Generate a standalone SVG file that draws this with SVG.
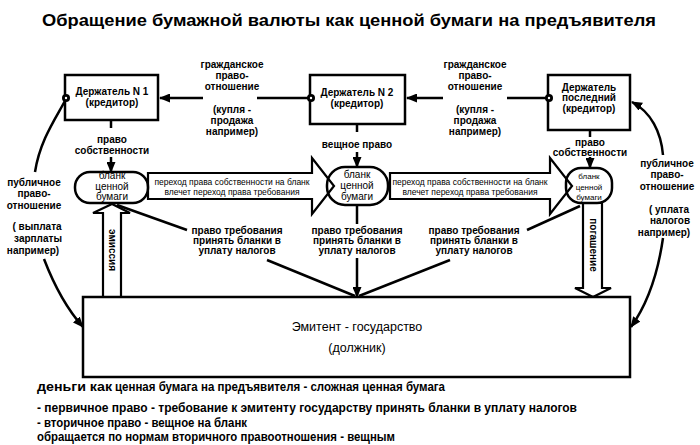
<svg xmlns="http://www.w3.org/2000/svg" width="700" height="445" viewBox="0 0 700 445">
<defs>
<marker id="ah" markerUnits="userSpaceOnUse" markerWidth="11" markerHeight="9" refX="10" refY="4.5" orient="auto">
<path d="M0,0 L11,4.5 L0,9 z" fill="#000"/>
</marker>
<style>
text{font-family:"Liberation Sans",Arial,sans-serif;fill:#000}
.b{font-weight:bold;font-size:10px;text-anchor:middle}
.s{font-size:8.5px;text-anchor:middle}
.p{font-size:10px;text-anchor:middle}
.p3{font-size:8px;text-anchor:middle}
.e{font-size:12.5px;text-anchor:middle}
.t{font-weight:bold;font-size:12.5px}
.box{fill:#fff;stroke:#000;stroke-width:2.5}
.pill{fill:none;stroke:#000;stroke-width:2.5}
.ln{fill:none;stroke:#000;stroke-width:2.5}
.big{fill:#fff;stroke:#000;stroke-width:2.2;stroke-linejoin:miter}
.dot{fill:#000}
.dotc{fill:#fff}
</style>
</defs>
<rect width="700" height="445" fill="#fff"/>
<text x="42" y="26" font-size="17" font-weight="bold" textLength="614" lengthAdjust="spacingAndGlyphs">Обращение бумажной валюты как ценной бумаги на предъявителя</text>

<g id="connectors">
<line class="ln" x1="310" y1="98" x2="257" y2="98"/>
<line class="ln" x1="203" y1="98" x2="160" y2="98" marker-end="url(#ah)"/>
<line class="ln" x1="548" y1="98" x2="507" y2="98"/>
<line class="ln" x1="443" y1="98" x2="407" y2="98" marker-end="url(#ah)"/>
<line class="ln" x1="111" y1="120" x2="111" y2="128"/>
<line class="ln" x1="111" y1="157" x2="111" y2="172" marker-end="url(#ah)"/>
<line class="ln" x1="357" y1="124" x2="357" y2="132"/>
<line class="ln" x1="357" y1="152" x2="357" y2="167" marker-end="url(#ah)"/>
<line class="ln" x1="590" y1="130" x2="590" y2="137"/>
<line class="ln" x1="590" y1="157" x2="590" y2="168" marker-end="url(#ah)"/>
<path class="ln" d="M66,99 C56,118 40,140 35,172"/>
<path class="ln" d="M44,259 C54,285 66,308 83,327" marker-end="url(#ah)"/>
<path class="ln" d="M663,155 C661,132 651,112 632,102" marker-end="url(#ah)"/>
<path class="ln" d="M663,238 C657,280 646,306 631,327" marker-end="url(#ah)"/>
<line class="ln" x1="117" y1="205" x2="187" y2="230"/>
<line class="ln" x1="267" y1="260" x2="355" y2="296"/>
<line class="ln" x1="357" y1="205" x2="357" y2="224"/>
<line class="ln" x1="357" y1="258" x2="357" y2="297" marker-end="url(#ah)"/>
<line class="ln" x1="450" y1="260" x2="359" y2="296"/>
<line class="ln" x1="580" y1="206" x2="527" y2="230"/>
<polygon class="big" points="148,173 312,173 312,158 334,186 312,214 312,199 148,199"/>
<polygon class="big" points="390,173 550,173 550,158 572,186 550,214 550,199 390,199"/>
<polygon class="big" points="103,297 103,213 93,213 112,204 130,213 121,213 121,297"/>
<polygon class="big" points="583,203 583,288 575,288 593,297 611,288 602,288 602,203"/>
<text class="s" x="232" y="185">переход права собственности на бланк</text>
<text class="s" x="232" y="195">влечет переход права требования</text>
<text class="s" x="470" y="185">переход права собственности на бланк</text>
<text class="s" x="470" y="195">влечет переход права требования</text>
<text class="b" font-size="9" transform="translate(112,250) rotate(90)" y="3">эмиссия</text>
<text class="b" transform="translate(593,245) rotate(90)" y="3.5">погашение</text>
<text class="b" x="232" y="68">гражданское</text>
<text class="b" x="232" y="79">право-</text>
<text class="b" x="232" y="90">отношение</text>
<text class="b" x="232" y="113">(купля -</text>
<text class="b" x="232" y="124">продажа</text>
<text class="b" x="232" y="135">например)</text>
<text class="b" x="475" y="68">гражданское</text>
<text class="b" x="475" y="79">право-</text>
<text class="b" x="475" y="90">отношение</text>
<text class="b" x="475" y="113">(купля -</text>
<text class="b" x="475" y="124">продажа</text>
<text class="b" x="475" y="135">например)</text>
<text class="b" x="112" y="143">право</text>
<text class="b" x="112" y="154">собственности</text>
<text class="b" x="357" y="148">вещное право</text>
<text class="b" x="590" y="146">право</text>
<text class="b" x="590" y="156">собственности</text>
<text class="b" x="237" y="234">право требования</text>
<text class="b" x="237" y="244">принять бланки в</text>
<text class="b" x="237" y="254">уплату налогов</text>
<text class="b" x="357" y="234">право требования</text>
<text class="b" x="357" y="244">принять бланки в</text>
<text class="b" x="357" y="254">уплату налогов</text>
<text class="b" x="474" y="234">право требования</text>
<text class="b" x="474" y="244">принять бланки в</text>
<text class="b" x="474" y="254">уплату налогов</text>
<text class="b" x="34" y="186">публичное</text>
<text class="b" x="34" y="197">право-</text>
<text class="b" x="34" y="209">отношение</text>
<text class="b" x="37" y="230">( выплата</text>
<text class="b" x="38" y="242">зарплаты</text>
<text class="b" x="33" y="254">например)</text>
<text class="b" x="667" y="167">публичное</text>
<text class="b" x="667" y="178">право-</text>
<text class="b" x="667" y="190">отношение</text>
<text class="b" x="669" y="213">( уплата</text>
<text class="b" x="670" y="224">налогов</text>
<text class="b" x="664" y="236">например)</text>
</g>

<g id="holder1">
<rect class="box" x="65" y="75" width="93" height="45"/>
<text class="b" x="112" y="95">Держатель N 1</text>
<text class="b" x="112" y="106">(кредитор)</text>
<circle class="dot" cx="66" cy="98" r="4"/><circle class="dotc" cx="66" cy="98" r="1.2"/>
</g>
<g id="holder2">
<rect class="box" x="310" y="75" width="95" height="49"/>
<text class="b" x="357" y="96">Держатель N 2</text>
<text class="b" x="357" y="107">(кредитор)</text>
<circle class="dot" cx="311" cy="98" r="4"/><circle class="dotc" cx="311" cy="98" r="1.2"/>
</g>
<g id="holder3">
<rect class="box" x="548" y="75" width="82" height="55"/>
<text class="b" x="589" y="91">Держатель</text>
<text class="b" x="589" y="101">последний</text>
<text class="b" x="589" y="112">(кредитор)</text>
<circle class="dot" cx="549" cy="98" r="4"/><circle class="dotc" cx="549" cy="98" r="1.2"/>
</g>
<g id="blank1">
<rect class="pill" x="75" y="172" width="73" height="31" rx="15"/>
<text class="p" x="112" y="179">бланк</text>
<text class="p" x="112" y="190">ценной</text>
<text class="p" x="112" y="200">бумаги</text>
</g>
<g id="blank2">
<rect class="pill" x="327" y="167" width="61" height="38" rx="18"/>
<text class="p" x="357" y="178">бланк</text>
<text class="p" x="357" y="189">ценной</text>
<text class="p" x="357" y="200">бумаги</text>
</g>
<g id="blank3">
<rect class="pill" x="566" y="168" width="46" height="35" rx="15"/>
<text class="p3" x="589" y="179">бланк</text>
<text class="p3" x="589" y="190">ценной</text>
<text class="p3" x="589" y="200">бумаги</text>
</g>
<g id="emitter">
<rect class="box" x="83" y="297" width="547" height="80" stroke-width="2"/>
<text class="e" x="357" y="331">Эмитент - государство</text>
<text class="e" x="357" y="352">(должник)</text>
</g>

<g id="notes">
<text x="37" y="391" font-size="13" font-weight="bold" textLength="75" lengthAdjust="spacingAndGlyphs">деньги как</text>
<text class="t" x="115" y="391" textLength="330" lengthAdjust="spacingAndGlyphs">ценная бумага на предъявителя  - сложная ценная бумага</text>
<text class="t" x="37" y="412" textLength="540" lengthAdjust="spacingAndGlyphs">- первичное право - требование к эмитенту государству принять бланки в уплату налогов</text>
<text class="t" x="37" y="427" textLength="210" lengthAdjust="spacingAndGlyphs">- вторичное право - вещное на бланк</text>
<text class="t" x="37" y="441" textLength="358" lengthAdjust="spacingAndGlyphs">обращается по нормам вторичного правоотношения - вещным</text>
</g>
</svg>
